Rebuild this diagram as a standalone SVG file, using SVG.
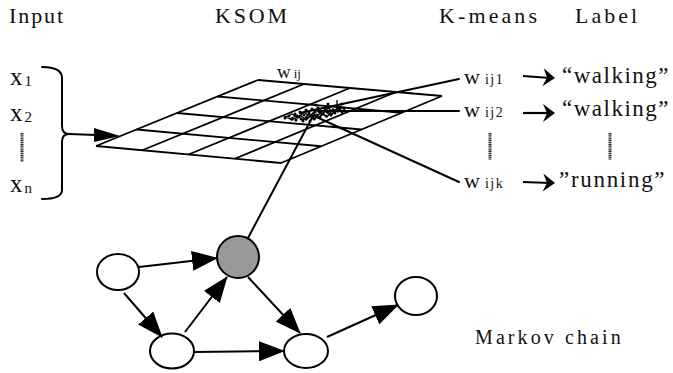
<svg xmlns="http://www.w3.org/2000/svg" width="673" height="373" viewBox="0 0 673 373">
<style>
  .ln { stroke: #000; stroke-width: 2; fill: none; stroke-linecap: round; }
  .grid line { stroke: #000; stroke-width: 1.8; }
  .node { fill: #fff; stroke: #000; stroke-width: 2; }
  .dots { stroke: #222; stroke-width: 3; stroke-dasharray: 1.4 0.8; }
  .edge { stroke: #000; stroke-width: 2; fill: none; marker-end: url(#tri); }
  .karr { stroke: #000; stroke-width: 2.2; fill: none; }
</style>
<defs>
  <marker id="tri" markerUnits="userSpaceOnUse" viewBox="0 0 26 20" refX="25" refY="10" markerWidth="26" markerHeight="20" orient="auto">
    <path d="M0,0 L26,10 L0,20 z" fill="#000"/>
  </marker>
  <path id="khead" d="M0,0 L-12,-9 L-8,0 L-12,9 z" fill="#000"/>
</defs>
<rect width="673" height="373" fill="#fff"/>

<g font-family="'Liberation Serif', serif" fill="#111">
<g id="headers" font-size="22">
  <text x="9" y="23" letter-spacing="1.9">Input</text>
  <text x="215" y="23" letter-spacing="2.8">KSOM</text>
  <text x="439" y="23" letter-spacing="3.1">K-means</text>
  <text x="575" y="23" letter-spacing="3">Label</text>
</g>

<g id="input">
  <text x="10" y="85" font-size="25">x<tspan font-size="15" dx="2" dy="1">1</tspan></text>
  <text x="10" y="121" font-size="25">x<tspan font-size="15" dx="2" dy="1">2</tspan></text>
  <line class="dots" x1="22" y1="133" x2="22" y2="162"/>
  <text x="10" y="192" font-size="25">x<tspan font-size="15" dx="2" dy="1">n</tspan></text>
  <path class="ln" d="M42,67 C55,67 62,70 62,78 L62,126 C62,131 64,134 69,134 M69,134 C64,134 62,137 62,142 L62,190 C62,196 55,199 42,199"/>
</g>

<g id="ksom">
  <g class="grid">
    <line x1="258" y1="80" x2="442" y2="96"/>
    <line x1="217.5" y1="96.5" x2="401.75" y2="112.75"/>
    <line x1="177" y1="113" x2="361.5" y2="129.5"/>
    <line x1="136.5" y1="129.5" x2="321.25" y2="146.25"/>
    <line x1="96" y1="146" x2="281" y2="163"/>
    <line x1="258" y1="80" x2="96" y2="146"/>
    <line x1="304" y1="84" x2="142.25" y2="150.25"/>
    <line x1="350" y1="88" x2="188.5" y2="154.5"/>
    <line x1="396" y1="92" x2="234.75" y2="158.75"/>
    <line x1="442" y1="96" x2="281" y2="163"/>
  </g>
  <text x="277" y="78" font-size="19">w<tspan font-size="13" dx="3">ij</tspan></text>
  <g id="cluster" fill="#000">
    <path d="M286,117 L292,114 L298,118 L304,112 L310,117 L316,110 L322,115 L328,108 L334,113 L340,106 L345,110 M290,119 L297,115 L303,120 L309,114 L315,119 L321,112 L327,117 L333,109 L339,112 M284,116 L292,120 L300,115 L306,120 L313,113 L319,118 L325,111 L331,116 L337,108 L343,113 M337,100 L337,107" stroke="#000" stroke-width="1.3" fill="none"/>
    <circle cx="285" cy="118" r="1.5"/><circle cx="289" cy="116" r="1.5"/><circle cx="292" cy="119" r="1.5"/>
    <circle cx="295" cy="114" r="1.5"/><circle cx="297" cy="117" r="1.5"/><circle cx="300" cy="112" r="1.5"/>
    <circle cx="301" cy="119" r="1.5"/><circle cx="304" cy="115" r="1.5"/><circle cx="306" cy="110" r="1.5"/>
    <circle cx="307" cy="118" r="1.5"/><circle cx="309" cy="113" r="1.5"/><circle cx="311" cy="116" r="1.5"/>
    <circle cx="312" cy="109" r="1.5"/><circle cx="314" cy="119" r="1.5"/><circle cx="315" cy="112" r="1.5"/>
    <circle cx="317" cy="115" r="1.5"/><circle cx="318" cy="108" r="1.5"/><circle cx="320" cy="117" r="1.5"/>
    <circle cx="321" cy="111" r="1.5"/><circle cx="323" cy="114" r="1.5"/><circle cx="325" cy="109" r="1.5"/>
    <circle cx="326" cy="116" r="1.5"/><circle cx="328" cy="112" r="1.5"/><circle cx="330" cy="107" r="1.5"/>
    <circle cx="331" cy="114" r="1.5"/><circle cx="333" cy="110" r="1.5"/><circle cx="335" cy="113" r="1.5"/>
    <circle cx="337" cy="106" r="1.5"/><circle cx="338" cy="111" r="1.5"/><circle cx="340" cy="109" r="1.5"/>
    <circle cx="342" cy="112" r="1.5"/><circle cx="344" cy="108" r="1.5"/><circle cx="303" cy="121" r="1.5"/>
    <circle cx="310" cy="121" r="1.5"/><circle cx="296" cy="120" r="1.5"/><circle cx="316" cy="105" r="1.5"/>
    <circle cx="328" cy="104" r="1.5"/><circle cx="342" cy="104" r="1.5"/>
  </g>
</g>

<g id="kmeans">
  <text x="464" y="84" font-size="22">w<tspan font-size="14" dx="5" letter-spacing="1.5">ij1</tspan></text>
  <text x="464" y="117" font-size="22">w<tspan font-size="14" dx="5" letter-spacing="1.5">ij2</tspan></text>
  <line class="dots" x1="490" y1="133" x2="490" y2="160"/>
  <text x="464" y="188" font-size="22">w<tspan font-size="14" dx="5" letter-spacing="1.5">ijk</tspan></text>
</g>

<g id="labels" font-size="23">
  <text x="562" y="83" letter-spacing="1.5">“walking”</text>
  <text x="562" y="116" letter-spacing="1.5">“walking”</text>
  <line class="dots" x1="610" y1="133" x2="610" y2="160"/>
  <text x="559" y="187" letter-spacing="1.7">”running”</text>
</g>

<text x="475" y="344" font-size="20" letter-spacing="3.1">Markov chain</text>
</g>

<g id="m1"><ellipse class="node" cx="118" cy="272" rx="21" ry="18"/></g>
<g id="m2"><circle class="node" cx="238" cy="257" r="21" style="fill:#999"/></g>
<g id="m3"><ellipse class="node" cx="172" cy="351" rx="22" ry="17.5"/></g>
<g id="m4"><ellipse class="node" cx="306" cy="351" rx="22" ry="17"/></g>
<g id="m5"><ellipse class="node" cx="416" cy="296" rx="21" ry="19"/></g>

<g id="connectors">
  <line class="ln" x1="69" y1="134" x2="96" y2="135"/>
  <path d="M94,128 L120,136 L94,142 z" fill="#000"/>
  <line class="ln" x1="300" y1="113" x2="459" y2="79" stroke-width="1.8"/>
  <line class="ln" x1="318" y1="111" x2="459" y2="111" stroke-width="1.8"/>
  <line class="ln" x1="312" y1="115" x2="459" y2="182" stroke-width="1.8"/>
  <line class="ln" x1="313" y1="116" x2="248" y2="238" stroke-width="1.8"/>
  <line class="karr" x1="523" y1="76" x2="550" y2="78"/>
  <use href="#khead" transform="translate(555,78) rotate(4)"/>
  <line class="karr" x1="523" y1="113" x2="550" y2="113"/>
  <use href="#khead" transform="translate(555,113)"/>
  <line class="karr" x1="523" y1="182" x2="550" y2="183"/>
  <use href="#khead" transform="translate(555,183) rotate(2)"/>
  <line class="edge" x1="139" y1="267" x2="217" y2="258"/>
  <line class="edge" x1="124" y1="293" x2="162" y2="337"/>
  <line class="edge" x1="185" y1="332" x2="227" y2="277"/>
  <line class="edge" x1="248" y1="277" x2="300" y2="333"/>
  <line class="edge" x1="194" y1="352" x2="284" y2="351"/>
  <line class="edge" x1="327" y1="337" x2="398" y2="305"/>
</g>
</svg>
